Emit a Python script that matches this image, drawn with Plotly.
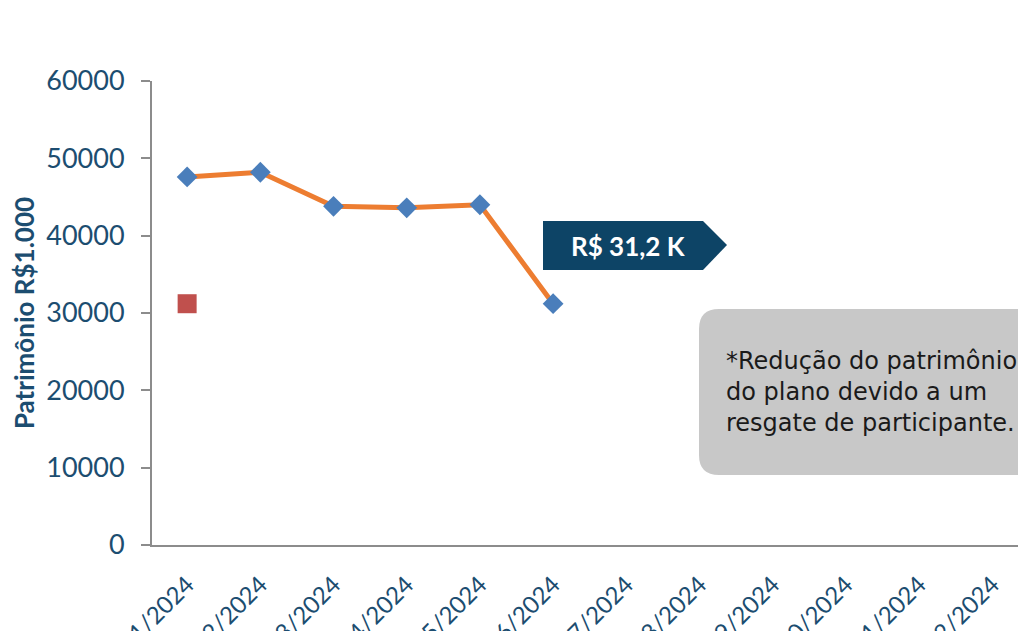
import plotly.graph_objects as go

months = ["01/2024", "02/2024", "03/2024", "04/2024", "05/2024", "06/2024",
          "07/2024", "08/2024", "09/2024", "10/2024", "11/2024", "12/2024"]
patrimonio = [47600, 48200, 43800, 43600, 44000, 31200, None, None, None, None, None, None]
resgate_month = ["01/2024"]
resgate_value = [31200]
y_ticks = [0, 10000, 20000, 30000, 40000, 50000, 60000]
label_text = "R$ 31,2 K"
note_text = "*Redução do patrimônio<br>do plano devido a um<br>resgate de participante."

# page body has an 8px offset; screen-pixel helpers below account for it
OFF = 8
W, H = 1026, 631
L, R, T, B = 144, 0, 73, 94
PW, PH = W - L - R, H - T - B

def px(x):
    return (x - OFF - L) / PW

def py(y):
    return (H - B + OFF - y) / PH

TXT = "#1c4d70"

fig = go.Figure()
fig.add_trace(go.Scatter(
    x=months, y=patrimonio, mode="lines+markers",
    line=dict(color="#ed7d31", width=5),
    marker=dict(symbol="diamond", size=16, color="#4a7ebb"),
    showlegend=False, connectgaps=False,
))
fig.add_trace(go.Scatter(
    x=resgate_month, y=resgate_value, mode="markers",
    marker=dict(symbol="square", size=19, color="#c0504d"),
    showlegend=False,
))

# arrow label shape
pts = [(543, 221), (703, 221), (727, 245), (703, 270), (543, 270)]
path = "M " + " L ".join(f"{px(x):.5f},{py(y):.5f}" for x, y in pts) + " Z"
fig.add_shape(type="path", xref="paper", yref="paper", path=path,
              fillcolor="#0d4466", line=dict(width=0), layer="above")
fig.add_annotation(xref="paper", yref="paper", x=px(628), y=py(246),
                   text=f"<b>{label_text}</b>", showarrow=False,
                   font=dict(family="Lato", size=26, color="white"),
                   xanchor="center", yanchor="middle")

# grey note box with rounded corners
x0, x1, y0, y1, r = 699, 1080, 309, 475, 20
def P(x, y):
    return f"{px(x):.5f},{py(y):.5f}"
box = (f"M {P(x0 + r, y0)} L {P(x1, y0)} L {P(x1, y1)} L {P(x0 + r, y1)} "
       f"Q {P(x0, y1)} {P(x0, y1 - r)} L {P(x0, y0 + r)} Q {P(x0, y0)} {P(x0 + r, y0)} Z")
fig.add_shape(type="path", xref="paper", yref="paper", path=box,
              fillcolor="#c8c8c8", line=dict(width=0), layer="above")
fig.add_annotation(xref="paper", yref="paper", x=px(724), y=py(392),
                   text=note_text, showarrow=False, align="left",
                   font=dict(family="DejaVu Sans", size=24, color="#1a1a1a"),
                   xanchor="left", yanchor="middle")

fig.update_layout(
    width=W, height=H,
    margin=dict(l=L, r=R, t=T, b=B, pad=0, autoexpand=False),
    plot_bgcolor="white", paper_bgcolor="white",
    font=dict(family="Lato", color=TXT),
)
fig.update_xaxes(
    type="category", range=[-0.48, 11.57], automargin=False,
    showline=True, linecolor="#8c8c8c", linewidth=2,
    showgrid=False, ticks="", tickangle=-45,
    tickfont=dict(family="Lato", size=24, color=TXT),
    ticklabelstandoff=14,
)
fig.update_yaxes(
    range=[0, 60000], tickvals=y_ticks, tickformat="d", automargin=False,
    showline=True, linecolor="#8c8c8c", linewidth=2,
    showgrid=False, zeroline=False,
    ticks="outside", ticklen=9, tickcolor="#8c8c8c", tickwidth=2,
    tickfont=dict(family="Lato", size=27, color=TXT),
    ticklabelstandoff=11,
    title=dict(text="<b>Patrimônio R$1.000</b>", font=dict(family="Lato", size=26, color=TXT), standoff=6),
)

fig.write_html("out.html")
